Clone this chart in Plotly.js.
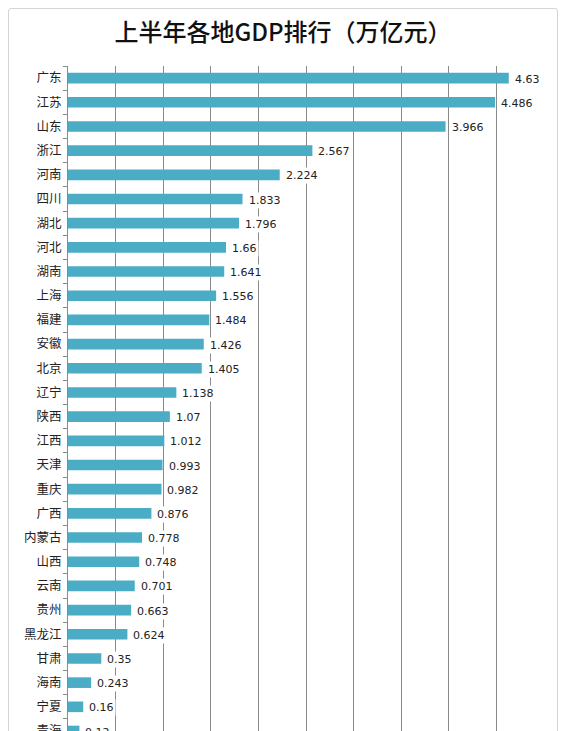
<!DOCTYPE html>
<html>
<head>
<meta charset="utf-8">
<script src="https://cdn.plot.ly/plotly-3.0.1.min.js"></script>
<style>
  body { margin: 0; background: #fff; }
  #myDiv { width: 566px; height: 731px; }
  #frame { position: absolute; left: 8px; top: 8px; width: 548px; height: 760px;
           border: 1px solid #d4d4d4; border-radius: 3px; pointer-events: none; }
</style>
</head>
<body>
<div id="myDiv"></div>
<div id="frame"></div>
<script>
var provinces = ['广东','江苏','山东','浙江','河南','四川','湖北','河北','湖南','上海',
                 '福建','安徽','北京','辽宁','陕西','江西','天津','重庆','广西','内蒙古',
                 '山西','云南','贵州','黑龙江','甘肃','海南','宁夏','青海'];
var gdp = [4.63, 4.486, 3.966, 2.567, 2.224, 1.833, 1.796, 1.66, 1.641, 1.556,
           1.484, 1.426, 1.405, 1.138, 1.07, 1.012, 0.993, 0.982, 0.876, 0.778,
           0.748, 0.701, 0.663, 0.624, 0.35, 0.243, 0.16, 0.12];
var gdpLabels = ['4.63','4.486','3.966','2.567','2.224','1.833','1.796','1.66','1.641','1.556',
                 '1.484','1.426','1.405','1.138','1.07','1.012','0.993','0.982','0.876','0.778',
                 '0.748','0.701','0.663','0.624','0.35','0.243','0.16','0.12'];

var data = [{
  type: 'bar',
  orientation: 'h',
  x: gdp,
  y: provinces,
  width: 0.44,
  marker: {color: '#4bacc6'},
  hoverinfo: 'x+y'
}];

// value labels with white box, like the original
var annotations = provinces.map(function(p, i) {
  return {
    x: gdp[i], y: p, xref: 'x', yref: 'y',
    text: gdpLabels[i], showarrow: false,
    xanchor: 'left', xshift: 4, yshift: -1,
    bgcolor: '#ffffff', borderpad: 1,
    font: {family: 'DejaVu Sans, sans-serif', size: 11, color: '#222'}
  };
});

var layout = {
  width: 566, height: 731,
  margin: {l: 68, r: 22, t: 66, b: 0},
  paper_bgcolor: '#fff', plot_bgcolor: '#fff',
  showlegend: false,
  title: {
    text: '上半年各地GDP排行（万亿元）',
    x: 0.5, xanchor: 'center', y: 0.955, yanchor: 'middle',
    font: {family: '"Noto Sans CJK SC", sans-serif', size: 24, color: '#111', weight: 500}
  },
  xaxis: {
    range: [0, 5], dtick: 0.5, showticklabels: false,
    showgrid: true, gridcolor: '#8a8a8a', gridwidth: 1,
    zeroline: false, fixedrange: true
  },
  yaxis: {
    type: 'category',
    range: [27.0, -0.5],
    showline: true, linecolor: '#8a8a8a', linewidth: 1,
    ticks: 'outside', tickson: 'boundaries', ticklen: 4, tickcolor: '#8a8a8a',
    ticklabelstandoff: 3,
    tickfont: {family: '"Noto Sans CJK SC", sans-serif', size: 12.5, color: '#222'},
    fixedrange: true
  },
  annotations: annotations
};

Plotly.newPlot('myDiv', data, layout, {displayModeBar: false, staticPlot: true});
</script>
</body>
</html>
